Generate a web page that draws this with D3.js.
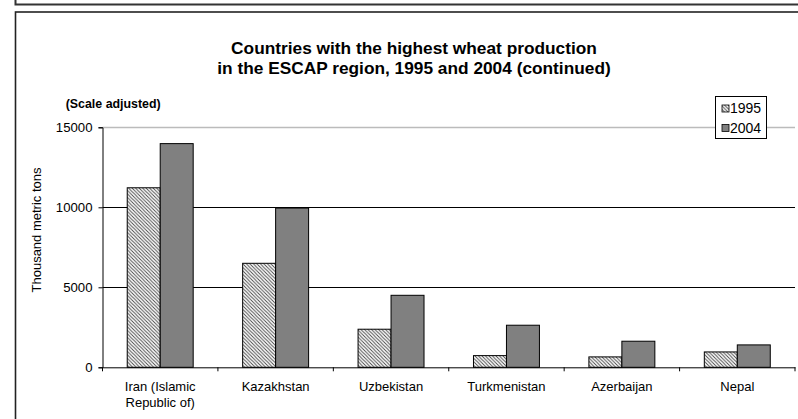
<!DOCTYPE html>
<html>
<head>
<meta charset="utf-8">
<script src="https://cdn.jsdelivr.net/npm/d3@7"></script>
<style>
  html, body { margin: 0; padding: 0; background: #fff; }
  svg { display: block; }
  text { font-family: "Liberation Sans", Arial, sans-serif; fill: #000; }
</style>
</head>
<body>
<svg id="chart" width="798" height="419"></svg>
<script>
const categories = ["Iran (Islamic\nRepublic of)", "Kazakhstan", "Uzbekistan", "Turkmenistan", "Azerbaijan", "Nepal"];
const seriesNames = ["1995", "2004"];
const values1995 = [11220, 6500, 2380, 730, 650, 960];
const values2004 = [13980, 9950, 4500, 2630, 1630, 1400];
const yTicks = [0, 5000, 10000, 15000];
const titleLines = ["Countries with the highest wheat production", "in the ESCAP region, 1995 and 2004 (continued)"];
const subtitle = "(Scale adjusted)";
const yTitle = "Thousand metric tons";

const svg = d3.select("#chart");
const plot = { left: 102.5, right: 795, top: 127.3, bottom: 367.3 };

const defs = svg.append("defs");
const pat = defs.append("pattern")
  .attr("id", "hatch").attr("patternUnits", "userSpaceOnUse")
  .attr("width", 3.5).attr("height", 3.5);
pat.append("rect").attr("width", 3.5).attr("height", 3.5).attr("fill", "#fff");
pat.append("path").attr("d", "M-1,-1 L4.5,4.5 M2.5,-1 L4.5,1 M-1,2.5 L1,4.5")
  .attr("stroke", "#444").attr("stroke-width", 0.9);

// frames
svg.append("path").attr("d", "M15.5,0 L15.5,4.5 L798,4.5")
  .attr("fill", "none").attr("stroke", "#333").attr("stroke-width", 2);
svg.append("rect").attr("x", 15.5).attr("y", 12).attr("width", 800).attr("height", 420)
  .attr("fill", "none").attr("stroke", "#222").attr("stroke-width", 1.6);

const x = d3.scaleBand().domain(categories).range([plot.left, plot.right]).paddingInner(0).paddingOuter(0);
const y = d3.scaleLinear().domain([0, 15000]).range([plot.bottom, plot.top]);
const bw = x.bandwidth() / 3.5;
const gapOff = x.bandwidth() * 0.75 / 3.5;

// gridlines
svg.append("g").selectAll("line").data(yTicks.filter(d => d > 0)).join("line")
  .attr("x1", plot.left).attr("x2", plot.right)
  .attr("y1", d => Math.round(y(d)) + 0.5).attr("y2", d => Math.round(y(d)) + 0.5)
  .attr("stroke", d => d === 15000 ? "#bbb" : "#000").attr("stroke-width", d => d === 15000 ? 1.4 : 1);

// bars
const series = [values1995, values2004];
const fills = ["url(#hatch)", "#808080"];
series.forEach((vals, si) => {
  svg.append("g").selectAll("rect").data(categories).join("rect")
    .attr("x", (c) => x(c) + gapOff + si * bw)
    .attr("y", (c, i) => y(vals[i]))
    .attr("width", bw)
    .attr("height", (c, i) => y(0) - y(vals[i]))
    .attr("fill", fills[si])
    .attr("stroke", "#000").attr("stroke-width", 1);
});

// y axis
const yAxis = svg.append("g").attr("transform", `translate(${plot.left},0)`)
  .call(d3.axisLeft(y).tickValues(yTicks).tickSize(4).tickPadding(6).tickFormat(d3.format("d")));
yAxis.select(".domain").attr("stroke", "#000");
yAxis.selectAll(".tick line").attr("stroke", "#000");
yAxis.selectAll("text").attr("font-size", 13.2).attr("font-family", "Liberation Sans, Arial, sans-serif");

// x axis
const xAxis = svg.append("g").attr("transform", `translate(0,${plot.bottom})`)
  .call(d3.axisBottom(x).tickSize(0).tickPadding(0).tickFormat(""));
xAxis.select(".domain").attr("stroke", "#000");
const bounds = d3.range(categories.length + 1).map(i => plot.left + i * x.step());
xAxis.append("g").selectAll("line").data(bounds).join("line")
  .attr("x1", d => d).attr("x2", d => d).attr("y1", 0).attr("y2", 4).attr("stroke", "#000");
const labels = svg.append("g").selectAll("text").data(categories).join("text")
  .attr("text-anchor", "middle").attr("font-size", 13);
labels.each(function(c) {
  const lines = c.split("\n");
  const t = d3.select(this);
  lines.forEach((ln, i) => {
    t.append("tspan").attr("x", x(c) + x.bandwidth() / 2)
      .attr("y", plot.bottom + 24 + i * 16).text(ln);
  });
});

// titles
svg.append("g").selectAll("text").data(titleLines).join("text")
  .attr("x", 414).attr("y", (d, i) => 53.5 + i * 20)
  .attr("text-anchor", "middle").attr("font-weight", "bold").attr("font-size", 17.3)
  .text(d => d);
svg.append("text").attr("x", 65.7).attr("y", 107.5)
  .attr("font-weight", "bold").attr("font-size", 12.4).text(subtitle);
svg.append("text").attr("transform", "translate(40.5,230) rotate(-90)")
  .attr("text-anchor", "middle").attr("font-size", 13).text(yTitle);

// legend
const lg = svg.append("g");
lg.append("rect").attr("x", 715.5).attr("y", 96.5).attr("width", 51).attr("height", 42)
  .attr("fill", "#fff").attr("stroke", "#000").attr("stroke-width", 1);
seriesNames.forEach((s, i) => {
  lg.append("rect").attr("x", 722).attr("y", 105 + i * 19.4).attr("width", 7).attr("height", 7)
    .attr("fill", fills[i]).attr("stroke", "#000").attr("stroke-width", 0.8);
  lg.append("text").attr("x", 730).attr("y", 113.2 + i * 19.4).attr("font-size", 14).text(s);
});
</script>
</body>
</html>
